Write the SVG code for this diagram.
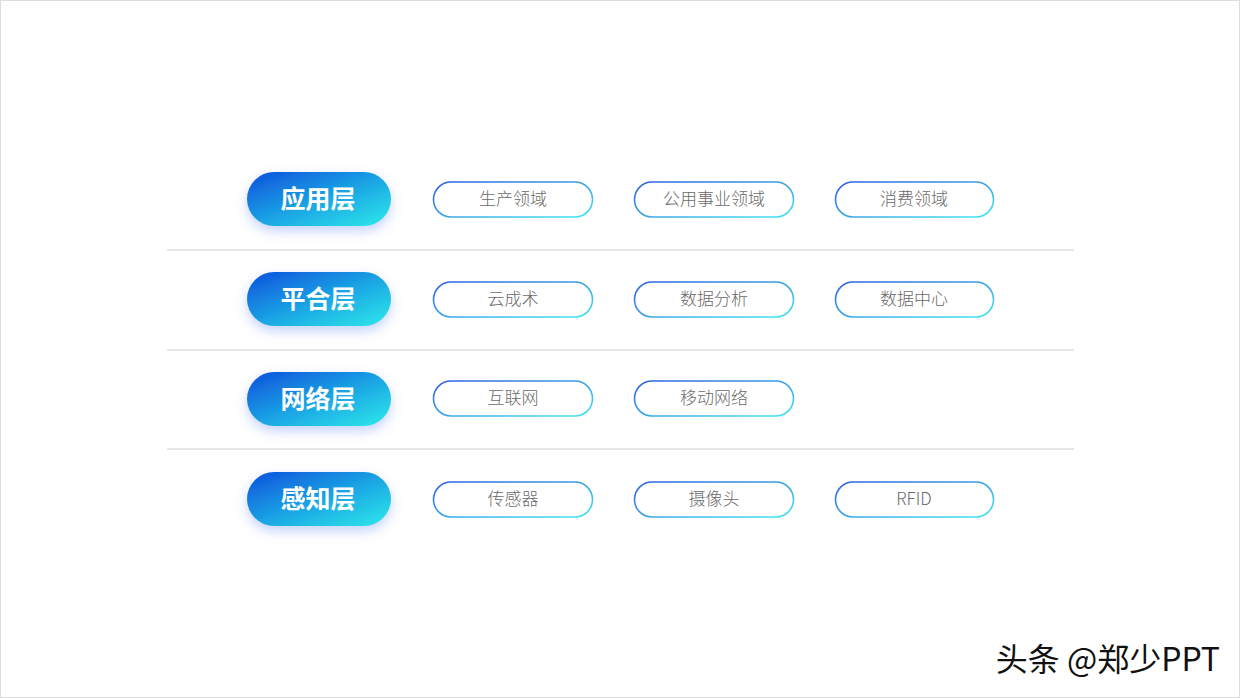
<svg xmlns="http://www.w3.org/2000/svg" width="1240" height="698" viewBox="0 0 1240 698">
<defs>
<linearGradient id="gFill" x1="0" y1="0" x2="1" y2="1">
<stop offset="0" stop-color="#0d4fdc"/>
<stop offset="0.5" stop-color="#1aa2e4"/>
<stop offset="1" stop-color="#2eeaea"/>
</linearGradient>
<linearGradient id="gLine" x1="0" y1="0" x2="1" y2="1">
<stop offset="0" stop-color="#2f5fe0"/>
<stop offset="1" stop-color="#45e6f0"/>
</linearGradient>
<filter id="shadow" x="-30%" y="-40%" width="160%" height="200%">
<feGaussianBlur in="SourceAlpha" stdDeviation="6" result="b"/>
<feOffset in="b" dy="5" result="o"/>
<feFlood flood-color="#5a82f5" flood-opacity="0.35"/>
<feComposite in2="o" operator="in" result="s"/>
<feMerge><feMergeNode in="s"/><feMergeNode in="SourceGraphic"/></feMerge>
</filter>
</defs>
<style>
.lbl{font-family:"Noto Sans CJK SC","Noto Sans",sans-serif;font-weight:700;font-size:25px;fill:#ffffff;text-anchor:middle;dominant-baseline:central}
.tag{fill:#ffffff;stroke:url(#gLine);stroke-width:1.6}
.tt{font-family:"Noto Sans CJK SC","Noto Sans",sans-serif;font-weight:300;font-size:17px;fill:#6a6a6a;text-anchor:middle;dominant-baseline:central}
.sep{stroke:#cccccc;stroke-width:1}
.wm{font-family:"Noto Sans CJK SC","Noto Sans",sans-serif;font-size:32px;text-anchor:end}
</style>
<rect x="0.5" y="0.5" width="1239" height="697" fill="#ffffff" stroke="#dddddd" stroke-width="1"/>
<g id="connectors">
<line class="sep" x1="167" y1="250" x2="1074" y2="250"/>
<line class="sep" x1="167" y1="350" x2="1074" y2="350"/>
<line class="sep" x1="167" y1="449" x2="1074" y2="449"/>
</g>
<g id="row1">
<g id="layer-app"><rect x="247" y="172" width="144" height="54" rx="27" fill="url(#gFill)" filter="url(#shadow)"/><text class="lbl" x="318" y="196.5">应用层</text></g>
<g id="tag-1-1"><rect class="tag" x="433.5" y="182" width="159" height="35" rx="17.5"/><text class="tt" x="513" y="197.5">生产领域</text></g>
<g id="tag-1-2"><rect class="tag" x="634.5" y="182" width="159" height="35" rx="17.5"/><text class="tt" x="714" y="197.5">公用事业领域</text></g>
<g id="tag-1-3"><rect class="tag" x="835.5" y="182" width="158" height="35" rx="17.5"/><text class="tt" x="914" y="197.5">消费领域</text></g>
</g>
<g id="row2">
<g id="layer-platform"><rect x="247" y="272" width="144" height="54" rx="27" fill="url(#gFill)" filter="url(#shadow)"/><text class="lbl" x="318" y="296.5">平合层</text></g>
<g id="tag-2-1"><rect class="tag" x="433.5" y="282" width="159" height="35" rx="17.5"/><text class="tt" x="513" y="297.5">云成术</text></g>
<g id="tag-2-2"><rect class="tag" x="634.5" y="282" width="159" height="35" rx="17.5"/><text class="tt" x="714" y="297.5">数据分析</text></g>
<g id="tag-2-3"><rect class="tag" x="835.5" y="282" width="158" height="35" rx="17.5"/><text class="tt" x="914" y="297.5">数据中心</text></g>
</g>
<g id="row3">
<g id="layer-network"><rect x="247" y="372" width="144" height="54" rx="27" fill="url(#gFill)" filter="url(#shadow)"/><text class="lbl" x="318" y="396.5">网络层</text></g>
<g id="tag-3-1"><rect class="tag" x="433.5" y="381" width="159" height="35" rx="17.5"/><text class="tt" x="513" y="396.5">互联网</text></g>
<g id="tag-3-2"><rect class="tag" x="634.5" y="381" width="159" height="35" rx="17.5"/><text class="tt" x="714" y="396.5">移动网络</text></g>
</g>
<g id="row4">
<g id="layer-sense"><rect x="247" y="472" width="144" height="54" rx="27" fill="url(#gFill)" filter="url(#shadow)"/><text class="lbl" x="318" y="496.5">感知层</text></g>
<g id="tag-4-1"><rect class="tag" x="433.5" y="482" width="159" height="35" rx="17.5"/><text class="tt" x="513" y="497.5">传感器</text></g>
<g id="tag-4-2"><rect class="tag" x="634.5" y="482" width="159" height="35" rx="17.5"/><text class="tt" x="714" y="497.5">摄像头</text></g>
<g id="tag-4-3"><rect class="tag" x="835.5" y="482" width="158" height="35" rx="17.5"/><text class="tt" x="914" y="497.5">RFID</text></g>
</g>
<g id="watermark">
<text class="wm" x="1222" y="673" fill="#ffffff">头条 @郑少PPT</text>
<text class="wm" x="1220" y="671" fill="#111111">头条 @郑少PPT</text>
</g>
</svg>
